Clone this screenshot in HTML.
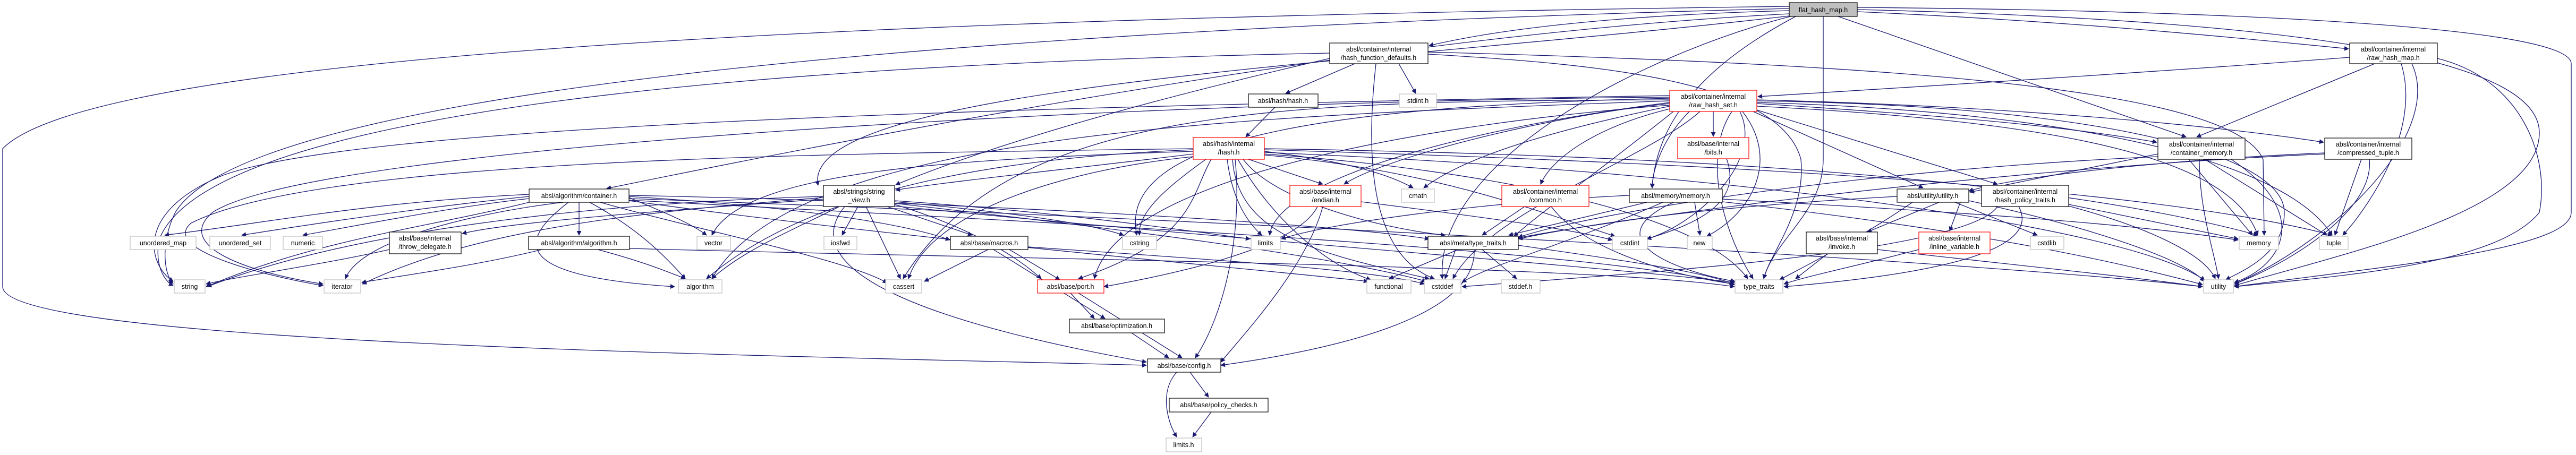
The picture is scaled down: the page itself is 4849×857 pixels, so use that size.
<!DOCTYPE html>
<html><head><meta charset="utf-8"><style>
html,body{margin:0;padding:0;background:#fff;}
svg{display:block;}
text{font-family:"Liberation Sans",sans-serif;font-size:12.5px;fill:#000;text-anchor:middle;}
.e{fill:none;stroke:#191970;stroke-width:1.3;marker-end:url(#a);}
.n{fill:#fff;stroke:#000;stroke-width:1.2;}
.r{fill:#fff;stroke:#f00;stroke-width:1.2;}
.g{fill:#fff;stroke:#bfbfbf;stroke-width:1.2;}
</style></head><body>
<svg width="4849" height="857" viewBox="0 0 4849 857" xmlns="http://www.w3.org/2000/svg">
<defs><marker id="a" viewBox="0 0 10 10" refX="9" refY="5" markerWidth="9" markerHeight="9" markerUnits="userSpaceOnUse" orient="auto"><path d="M0,0 L10,5 L0,10 z" fill="#191970"/></marker></defs>
<g>
<path class="e" d="M3368,20 C3000,30 2800,60 2690,86"/>
<path class="e" d="M3496,22 C3900,40 4200,70 4421,92"/>
<path class="e" d="M3368,26 C2700,60 1900,200 1142,355"/>
<path class="e" d="M3368,12 C2000,30 200,80 5,280 L5,540 C5,650 1500,670 2158,688"/>
<path class="e" d="M3380,31 C3250,100 3120,200 3110,354"/>
<path class="e" d="M3370,31 C3100,100 2700,300 2715,525"/>
<path class="e" d="M3432,31 L3432,300 C3432,400 3340,450 3320,525"/>
<path class="e" d="M3460,31 L4115,258"/>
<path class="e" d="M3496,14 C4200,20 4840,50 4840,120 L4840,400 C4840,470 4500,500 4206,540"/>
<path class="e" d="M3496,18 C4400,40 4780,120 4780,250 C4780,400 4400,480 4206,538"/>
<path class="e" d="M3368,30 C2600,120 1500,160 1540,349"/>
<path class="e" d="M3368,16 C2400,40 500,120 330,400 C300,460 310,520 326,534"/>
<path class="e" d="M2550,120 L2420,176"/>
<path class="e" d="M2633,120 L2665,176"/>
<path class="e" d="M2590,120 C2570,300 2580,480 2700,525"/>
<path class="e" d="M2503,110 C2200,180 1900,260 1686,348"/>
<path class="e" d="M2688,102 C3000,120 3350,150 3390,300 C3400,400 3330,480 3320,525"/>
<path class="e" d="M2688,98 C3500,120 4200,160 4260,300 L4262,443"/>
<path class="e" d="M2503,100 C1500,120 400,200 300,450 C290,500 310,530 326,538"/>
<path class="e" d="M3143,180 C2000,200 700,230 420,330 C250,400 280,500 326,530"/>
<path class="e" d="M2246,280 C1500,290 600,300 360,420 C300,470 500,520 608,538"/>
<path class="e" d="M3143,183 C2200,190 600,270 400,400 C330,460 450,510 608,535"/>
<path class="e" d="M4423,108 C4000,140 3500,170 3309,182"/>
<path class="e" d="M4470,120 L4135,258"/>
<path class="e" d="M4520,120 C4560,250 4450,400 4410,443"/>
<path class="e" d="M4540,120 C4600,250 4400,450 4206,535"/>
<path class="e" d="M4588,110 C4750,150 4800,300 4780,400 C4700,500 4400,520 4206,540"/>
<path class="e" d="M2400,202 L2345,258"/>
<path class="e" d="M2246,290 C2000,320 1800,340 1686,358"/>
<path class="e" d="M2246,285 C1800,300 1400,320 1340,443"/>
<path class="e" d="M2246,282 C1800,300 1500,380 1330,525"/>
<path class="e" d="M2270,300 C2200,350 2140,400 2145,443"/>
<path class="e" d="M2310,300 C2320,380 2350,420 2375,443"/>
<path class="e" d="M2280,300 C2240,370 2250,450 2030,525"/>
<path class="e" d="M2350,300 L2490,347"/>
<path class="e" d="M2340,300 C2400,380 2600,430 2720,443"/>
<path class="e" d="M2380,285 C2500,300 2600,320 2660,354"/>
<path class="e" d="M2380,290 C2800,320 3200,400 3290,525"/>
<path class="e" d="M2320,300 C2330,450 2500,480 2690,525"/>
<path class="e" d="M2325,300 C2340,450 2300,600 2250,674"/>
<path class="e" d="M2246,295 C2000,320 1750,400 1710,525"/>
<path class="e" d="M2380,280 C3000,290 3800,320 4250,443"/>
<path class="e" d="M2380,282 C3000,300 4000,340 4390,443"/>
<path class="e" d="M2380,292 C2700,320 2900,400 3040,445"/>
<path class="e" d="M2330,300 C2400,420 2500,500 2580,527"/>
<path class="e" d="M2380,287 C3200,320 4000,420 4150,528"/>
<path class="e" d="M996,366 C700,380 500,420 310,443"/>
<path class="e" d="M996,370 C800,390 600,420 455,443"/>
<path class="e" d="M996,374 C850,390 700,420 570,443"/>
<path class="e" d="M1090,381 L1090,443"/>
<path class="e" d="M1060,381 C900,400 680,450 650,525"/>
<path class="e" d="M1000,380 C800,430 600,450 388,540"/>
<path class="e" d="M1110,381 C1200,430 1250,480 1290,525"/>
<path class="e" d="M1130,381 C1300,430 1600,490 1670,533"/>
<path class="e" d="M1184,372 C1250,400 1300,420 1330,443"/>
<path class="e" d="M1184,368 C1800,380 2500,420 2690,450"/>
<path class="e" d="M1184,370 C1500,390 1700,420 1788,452"/>
<path class="e" d="M1184,377 C2000,420 3000,470 3265,536"/>
<path class="e" d="M1184,374 C2500,420 3800,500 4146,540"/>
<path class="e" d="M1184,378 C1700,450 2300,500 2575,530"/>
<path class="e" d="M1070,381 C980,450 950,520 1270,540"/>
<path class="e" d="M733,470 C600,500 450,520 388,535"/>
<path class="e" d="M1020,470 C900,500 750,520 681,532"/>
<path class="e" d="M1125,470 C1200,490 1240,505 1290,525"/>
<path class="e" d="M1185,468 C2000,490 3000,500 3265,540"/>
<path class="e" d="M1615,389 L1585,443"/>
<path class="e" d="M1630,389 L1695,525"/>
<path class="e" d="M1670,389 L1830,443"/>
<path class="e" d="M1684,385 C1800,420 1900,470 1960,525"/>
<path class="e" d="M1590,389 C1500,500 1700,600 2158,682"/>
<path class="e" d="M1580,389 C1500,430 1400,470 1340,525"/>
<path class="e" d="M1684,380 C1900,400 2050,420 2115,443"/>
<path class="e" d="M1684,378 C2000,400 2200,430 2353,450"/>
<path class="e" d="M1550,375 C1200,400 950,420 870,440"/>
<path class="e" d="M1550,370 C1200,380 700,420 390,540"/>
<path class="e" d="M1550,372 C1200,400 900,430 682,535"/>
<path class="e" d="M1684,383 C2100,430 2500,480 2685,530"/>
<path class="e" d="M1684,388 C2300,450 3000,500 3265,532"/>
<path class="e" d="M1860,470 L1740,530"/>
<path class="e" d="M1900,470 L1995,527"/>
<path class="e" d="M1870,470 L2080,600"/>
<path class="e" d="M1935,465 C2300,490 2600,510 2681,535"/>
<path class="e" d="M2015,552 L2060,600"/>
<path class="e" d="M2030,552 L2225,674"/>
<path class="e" d="M2130,627 L2200,674"/>
<path class="e" d="M2240,701 L2275,748"/>
<path class="e" d="M2215,701 C2180,740 2200,800 2215,823"/>
<path class="e" d="M2280,776 L2245,823"/>
<path class="e" d="M3225,210 L3225,257"/>
<path class="e" d="M3180,210 C3130,260 3110,320 3110,354"/>
<path class="e" d="M3143,205 C3000,240 2920,300 2900,347"/>
<path class="e" d="M3143,195 C2900,220 2600,300 2530,347"/>
<path class="e" d="M3143,200 C2900,250 2750,300 2680,354"/>
<path class="e" d="M3275,210 C3320,300 3200,420 3100,450"/>
<path class="e" d="M3280,210 C3350,300 3300,400 3213,445"/>
<path class="e" d="M3300,210 L3620,354"/>
<path class="e" d="M3307,195 C3700,220 3900,240 4060,268"/>
<path class="e" d="M3307,188 C3800,200 4200,240 4374,268"/>
<path class="e" d="M3150,210 C3000,330 2900,400 2850,445"/>
<path class="e" d="M3143,190 C2300,220 1500,250 1340,525"/>
<path class="e" d="M3143,185 C2500,200 2100,260 2140,443"/>
<path class="e" d="M3143,193 C2700,250 2400,350 2390,443"/>
<path class="e" d="M3143,198 C2600,240 2100,350 2060,525"/>
<path class="e" d="M3307,200 C3900,230 4200,300 4250,443"/>
<path class="e" d="M3307,193 C3900,210 4300,300 4390,443"/>
<path class="e" d="M3307,190 C4000,200 4300,300 4300,400 C4300,480 4220,510 4190,527"/>
<path class="e" d="M3260,210 C3200,300 3250,450 3300,525"/>
<path class="e" d="M3200,210 C3100,300 2800,400 2735,525"/>
<path class="e" d="M3300,205 L3760,347"/>
<path class="e" d="M3143,188 C2400,190 1900,200 1700,525"/>
<path class="e" d="M3250,299 C3280,380 3200,420 3100,450"/>
<path class="e" d="M2480,389 C2450,450 2300,500 2078,540"/>
<path class="e" d="M2490,389 C2460,500 2350,620 2298,682"/>
<path class="e" d="M2562,380 C2800,410 2950,430 3035,452"/>
<path class="e" d="M2870,389 L2790,443"/>
<path class="e" d="M2920,389 C2980,470 3150,520 3265,535"/>
<path class="e" d="M3190,381 L3200,443"/>
<path class="e" d="M3100,381 L2840,443"/>
<path class="e" d="M3130,381 C2950,460 2800,500 2752,532"/>
<path class="e" d="M3242,375 C3700,400 4000,420 4213,452"/>
<path class="e" d="M3150,381 C3000,450 3150,510 3266,530"/>
<path class="e" d="M3242,380 C3600,420 3900,470 4146,536"/>
<path class="e" d="M3067,368 C2800,380 2500,420 2412,450"/>
<path class="e" d="M3690,381 L3670,435"/>
<path class="e" d="M3650,381 L3515,437"/>
<path class="e" d="M3680,381 L3835,443"/>
<path class="e" d="M3571,370 C3200,390 3000,420 2858,450"/>
<path class="e" d="M3706,378 C3900,420 4100,480 4150,530"/>
<path class="e" d="M3600,381 C3500,450 3400,500 3350,527"/>
<path class="e" d="M3894,385 L4213,450"/>
<path class="e" d="M3894,388 C4050,430 4150,480 4170,525"/>
<path class="e" d="M3800,389 C3850,480 3600,520 3358,540"/>
<path class="e" d="M3760,389 C3700,480 3000,520 2752,540"/>
<path class="e" d="M4062,290 L3708,362"/>
<path class="e" d="M4120,300 L4240,443"/>
<path class="e" d="M4150,300 L4380,443"/>
<path class="e" d="M4140,300 C4140,400 4170,480 4176,525"/>
<path class="e" d="M4062,295 C3500,320 3000,400 2858,447"/>
<path class="e" d="M4200,300 C4350,400 4300,500 4206,532"/>
<path class="e" d="M4445,300 L4395,443"/>
<path class="e" d="M4460,300 C4470,400 4300,500 4206,535"/>
<path class="e" d="M4376,290 C3700,320 3000,420 2858,448"/>
<path class="e" d="M4376,288 C4100,300 3800,330 3706,360"/>
<path class="e" d="M3440,478 L3380,525"/>
<path class="e" d="M3534,470 C3800,500 4000,520 4146,540"/>
<path class="e" d="M3612,470 C3500,500 3400,520 3358,535"/>
<path class="e" d="M2740,470 L2720,525"/>
<path class="e" d="M2790,470 L2855,525"/>
<path class="e" d="M2858,462 C3050,490 3200,510 3264,535"/>
<path class="e" d="M2775,470 C2780,600 2500,660 2298,688"/>
<path class="e" d="M2745,470 L2615,525"/>
</g>
<g>
<rect x="3368" y="5" width="128" height="26" fill="#bfbfbf" stroke="#000" stroke-width="1.2"/><text x="3432" y="23">flat_hash_map.h</text>
<rect class="n" x="2503" y="81" width="185" height="39"/><text x="2595" y="97">absl/container/internal</text><text x="2595" y="113">/hash_function_defaults.h</text>
<rect class="n" x="4423" y="81" width="165" height="39"/><text x="4505" y="97">absl/container/internal</text><text x="4505" y="113">/raw_hash_map.h</text>
<rect class="n" x="2350" y="177" width="131" height="25"/><text x="2415" y="194">absl/hash/hash.h</text>
<rect class="g" x="2634" y="177" width="70" height="25"/><text x="2669" y="194">stdint.h</text>
<rect class="r" x="3143" y="170" width="164" height="40"/><text x="3225" y="186">absl/container/internal</text><text x="3225" y="202">/raw_hash_set.h</text>
<rect class="r" x="2246" y="259" width="134" height="41"/><text x="2313" y="275">absl/hash/internal</text><text x="2313" y="291">/hash.h</text>
<rect class="r" x="3158" y="259" width="134" height="40"/><text x="3225" y="275">absl/base/internal</text><text x="3225" y="291">/bits.h</text>
<rect class="n" x="4062" y="260" width="164" height="40"/><text x="4144" y="276">absl/container/internal</text><text x="4144" y="292">/container_memory.h</text>
<rect class="n" x="4376" y="260" width="164" height="40"/><text x="4458" y="276">absl/container/internal</text><text x="4458" y="292">/compressed_tuple.h</text>
<rect class="n" x="996" y="356" width="188" height="25"/><text x="1090" y="373">absl/algorithm/container.h</text>
<rect class="n" x="1550" y="349" width="134" height="40"/><text x="1617" y="365">absl/strings/string</text><text x="1617" y="381">_view.h</text>
<rect class="r" x="2428" y="349" width="134" height="40"/><text x="2495" y="365">absl/base/internal</text><text x="2495" y="381">/endian.h</text>
<rect class="g" x="2638" y="356" width="62" height="25"/><text x="2669" y="373">cmath</text>
<rect class="r" x="2827" y="349" width="164" height="40"/><text x="2909" y="365">absl/container/internal</text><text x="2909" y="381">/common.h</text>
<rect class="n" x="3067" y="356" width="175" height="25"/><text x="3154" y="373">absl/memory/memory.h</text>
<rect class="n" x="3571" y="356" width="135" height="25"/><text x="3638" y="373">absl/utility/utility.h</text>
<rect class="n" x="3730" y="349" width="164" height="40"/><text x="3812" y="365">absl/container/internal</text><text x="3812" y="381">/hash_policy_traits.h</text>
<rect class="g" x="245" y="445" width="124" height="25"/><text x="307" y="462">unordered_map</text>
<rect class="g" x="395" y="445" width="114" height="25"/><text x="452" y="462">unordered_set</text>
<rect class="g" x="533" y="445" width="74" height="25"/><text x="570" y="462">numeric</text>
<rect class="n" x="733" y="437" width="135" height="41"/><text x="800" y="453">absl/base/internal</text><text x="800" y="469">/throw_delegate.h</text>
<rect class="n" x="995" y="445" width="190" height="25"/><text x="1090" y="462">absl/algorithm/algorithm.h</text>
<rect class="g" x="1312" y="445" width="63" height="25"/><text x="1343" y="462">vector</text>
<rect class="g" x="1551" y="445" width="62" height="25"/><text x="1582" y="462">iosfwd</text>
<rect class="n" x="1789" y="445" width="146" height="25"/><text x="1862" y="462">absl/base/macros.h</text>
<rect class="g" x="2113" y="445" width="64" height="25"/><text x="2145" y="462">cstring</text>
<rect class="g" x="2355" y="445" width="55" height="25"/><text x="2382" y="462">limits</text>
<rect class="n" x="2688" y="445" width="170" height="25"/><text x="2773" y="462">absl/meta/type_traits.h</text>
<rect class="g" x="3035" y="445" width="66" height="25"/><text x="3068" y="462">cstdint</text>
<rect class="g" x="3176" y="445" width="47" height="25"/><text x="3199" y="462">new</text>
<rect class="n" x="3400" y="437" width="134" height="41"/><text x="3467" y="453">absl/base/internal</text><text x="3467" y="469">/invoke.h</text>
<rect class="r" x="3612" y="437" width="134" height="41"/><text x="3679" y="453">absl/base/internal</text><text x="3679" y="469">/inline_variable.h</text>
<rect class="g" x="3822" y="445" width="63" height="25"/><text x="3853" y="462">cstdlib</text>
<rect class="g" x="4215" y="445" width="74" height="25"/><text x="4252" y="462">memory</text>
<rect class="g" x="4366" y="445" width="54" height="25"/><text x="4393" y="462">tuple</text>
<rect class="g" x="328" y="527" width="58" height="25"/><text x="357" y="544">string</text>
<rect class="g" x="610" y="527" width="69" height="25"/><text x="644" y="544">iterator</text>
<rect class="g" x="1277" y="527" width="82" height="25"/><text x="1318" y="544">algorithm</text>
<rect class="g" x="1667" y="527" width="68" height="25"/><text x="1701" y="544">cassert</text>
<rect class="r" x="1953" y="527" width="125" height="25"/><text x="2015" y="544">absl/base/port.h</text>
<rect class="g" x="2573" y="527" width="83" height="25"/><text x="2614" y="544">functional</text>
<rect class="g" x="2681" y="527" width="69" height="25"/><text x="2715" y="544">cstddef</text>
<rect class="g" x="2826" y="527" width="73" height="25"/><text x="2862" y="544">stddef.h</text>
<rect class="g" x="3266" y="527" width="90" height="25"/><text x="3311" y="544">type_traits</text>
<rect class="g" x="4148" y="527" width="56" height="25"/><text x="4176" y="544">utility</text>
<rect class="n" x="2013" y="601" width="179" height="26"/><text x="2102" y="618">absl/base/optimization.h</text>
<rect class="n" x="2160" y="676" width="138" height="25"/><text x="2229" y="693">absl/base/config.h</text>
<rect class="n" x="2201" y="750" width="186" height="26"/><text x="2294" y="767">absl/base/policy_checks.h</text>
<rect class="g" x="2195" y="825" width="67" height="26"/><text x="2228" y="842">limits.h</text>
</g>
</svg>
</body></html>
